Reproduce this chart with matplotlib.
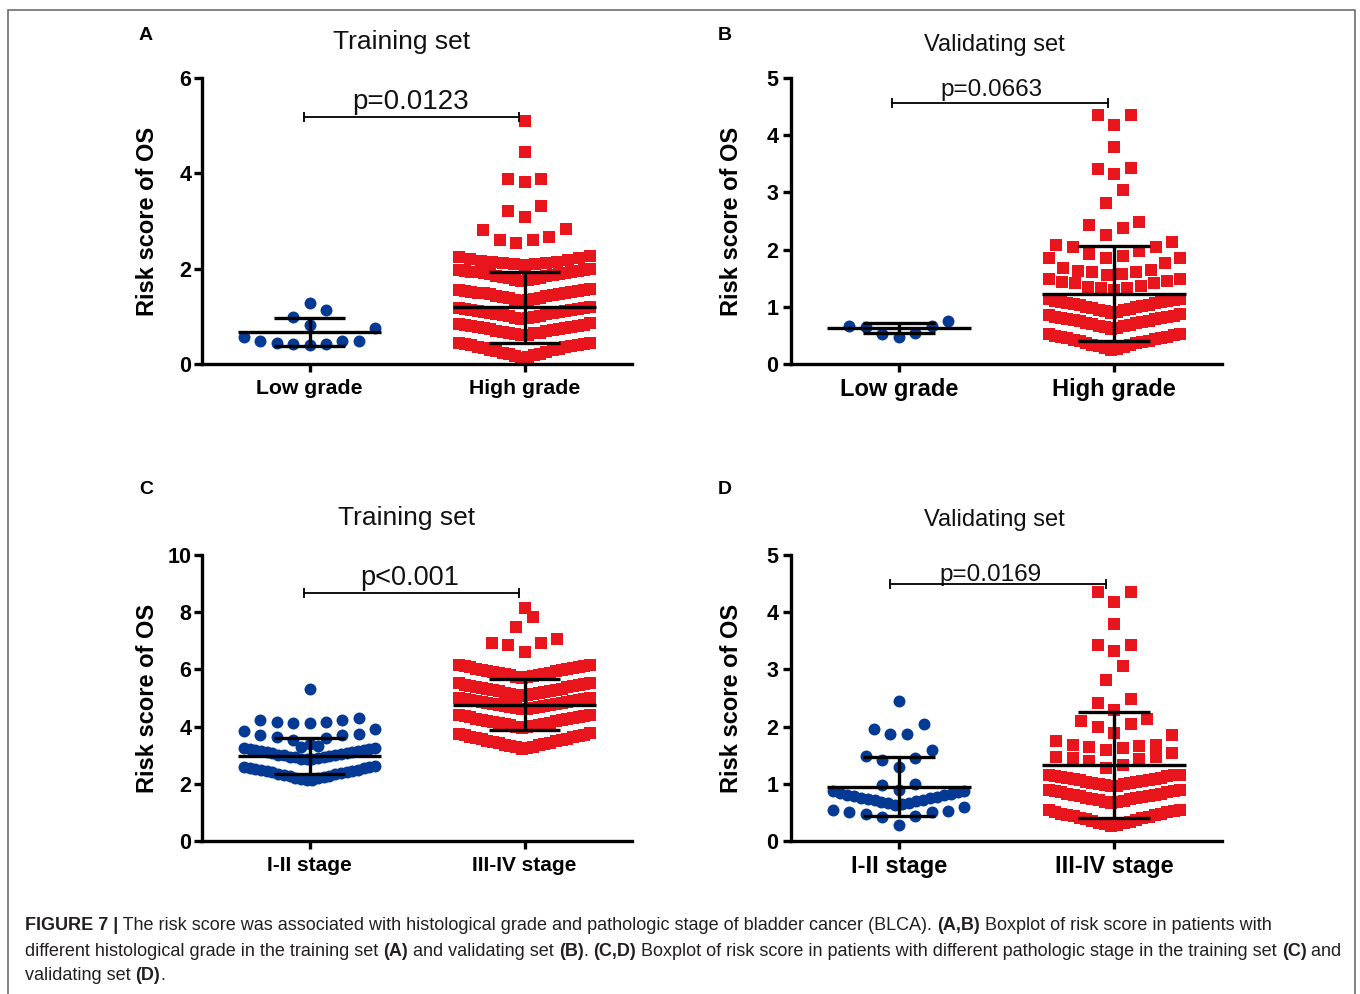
import numpy as np
import matplotlib
matplotlib.use("Agg")
import matplotlib.pyplot as plt
from matplotlib.patches import Rectangle
from matplotlib.font_manager import FontProperties

plt.rcParams['font.family'] = ['Liberation Sans', 'DejaVu Sans']

# ---------------- data (rows of the dot plots) ----------------
grade_labels = ["Low grade", "High grade"]
stage_labels = ["I-II stage", "III-IV stage"]

A_low_rows = [
    [0.40, 0.43, 0.43, 0.45, 0.48, 0.48, 0.48, 0.57, 0.75],
    [0.82, 0.99, 1.13],
    [1.27],
]
A_high_rows = [
    [5.10],
    [4.44],
    [3.81, 3.89, 3.89],
    [3.09, 3.21, 3.31],
    [2.53, 2.60, 2.61, 2.66, 2.81, 2.84],
    [2.08, 2.09, 2.10, 2.11, 2.12, 2.14, 2.15, 2.17, 2.19, 2.21, 2.23, 2.25, 2.27],
    [1.75, 1.76, 1.77, 1.79, 1.80, 1.81, 1.83, 1.84, 1.85, 1.86, 1.88, 1.89, 1.90, 1.91, 1.92, 1.93, 1.94, 1.95, 1.96, 1.97, 1.98, 1.99],
    [1.33, 1.34, 1.35, 1.37, 1.38, 1.39, 1.41, 1.42, 1.43, 1.44, 1.46, 1.47, 1.48, 1.49, 1.50, 1.51, 1.52, 1.53, 1.54, 1.55, 1.56, 1.57],
    [0.95, 0.96, 0.97, 0.99, 1.00, 1.01, 1.03, 1.04, 1.05, 1.06, 1.08, 1.09, 1.10, 1.11, 1.12, 1.13, 1.14, 1.15, 1.16, 1.17, 1.18, 1.19],
    [0.60, 0.61, 0.62, 0.64, 0.65, 0.66, 0.68, 0.69, 0.70, 0.71, 0.73, 0.74, 0.75, 0.76, 0.77, 0.78, 0.79, 0.80, 0.81, 0.82, 0.84, 0.85],
    [0.13, 0.15, 0.17, 0.19, 0.21, 0.22, 0.24, 0.26, 0.27, 0.29, 0.30, 0.32, 0.33, 0.35, 0.36, 0.37, 0.39, 0.40, 0.41, 0.43, 0.44, 0.45],
]
A_mean = [0.67, 1.19]
A_sd = [0.30, 0.75]

B_low_rows = [
    [0.47, 0.52, 0.54, 0.65, 0.66, 0.67, 0.76],
]
B_high_rows = [
    [4.18, 4.35, 4.35],
    [3.79],
    [3.32, 3.41, 3.42],
    [2.82, 3.04],
    [2.26, 2.37, 2.43, 2.49],
    [1.85, 1.88, 1.93, 1.98, 2.04, 2.05, 2.08, 2.14],
    [1.56, 1.57, 1.60, 1.61, 1.63, 1.65, 1.67, 1.76, 1.85, 1.85],
    [1.29, 1.32, 1.32, 1.34, 1.36, 1.41, 1.41, 1.44, 1.45, 1.48, 1.48],
    [0.90, 0.91, 0.92, 0.94, 0.95, 0.96, 0.98, 0.99, 1.00, 1.01, 1.03, 1.04, 1.05, 1.06, 1.07, 1.08, 1.09, 1.10, 1.11, 1.12, 1.13, 1.14],
    [0.62, 0.63, 0.64, 0.66, 0.67, 0.68, 0.70, 0.71, 0.72, 0.73, 0.75, 0.76, 0.77, 0.78, 0.79, 0.80, 0.81, 0.82, 0.83, 0.84, 0.86, 0.87],
    [0.25, 0.27, 0.28, 0.30, 0.31, 0.33, 0.34, 0.36, 0.37, 0.38, 0.40, 0.41, 0.42, 0.43, 0.45, 0.46, 0.47, 0.48, 0.49, 0.50, 0.52, 0.53],
]
B_mean = [0.63, 1.23]
B_sd = [0.09, 0.83]

C_low_rows = [
    [5.31],
    [4.11, 4.14, 4.17, 4.17, 4.23, 4.23, 4.29],
    [3.40, 3.53, 3.59, 3.65, 3.71, 3.71, 3.74, 3.86, 3.90],
    [3.30, 3.32],
    [2.85, 2.86, 2.88, 2.90, 2.92, 2.93, 2.95, 2.97, 2.99, 3.00, 3.02, 3.04, 3.06, 3.08, 3.10, 3.12, 3.14, 3.16, 3.18, 3.19, 3.21, 3.22, 3.24, 3.25],
    [2.13, 2.15, 2.18, 2.20, 2.22, 2.24, 2.27, 2.29, 2.31, 2.33, 2.36, 2.38, 2.40, 2.42, 2.44, 2.46, 2.48, 2.50, 2.52, 2.54, 2.56, 2.58, 2.60, 2.62],
]
C_high_rows = [
    [8.14],
    [7.49, 7.84],
    [6.62, 6.85, 6.91, 6.91, 7.08],
    [5.71, 5.73, 5.75, 5.77, 5.79, 5.81, 5.83, 5.85, 5.87, 5.89, 5.91, 5.93, 5.95, 5.97, 5.99, 6.01, 6.03, 6.05, 6.07, 6.09, 6.11, 6.13, 6.15, 6.17],
    [5.07, 5.09, 5.11, 5.13, 5.15, 5.17, 5.19, 5.21, 5.23, 5.25, 5.27, 5.29, 5.31, 5.33, 5.35, 5.37, 5.39, 5.41, 5.43, 5.45, 5.47, 5.49, 5.51, 5.53],
    [4.60, 4.62, 4.64, 4.65, 4.67, 4.69, 4.71, 4.72, 4.74, 4.76, 4.78, 4.79, 4.81, 4.83, 4.85, 4.86, 4.88, 4.90, 4.92, 4.93, 4.95, 4.97, 4.99, 5.01],
    [3.96, 3.98, 4.00, 4.02, 4.04, 4.06, 4.08, 4.10, 4.12, 4.14, 4.16, 4.18, 4.20, 4.22, 4.24, 4.26, 4.28, 4.30, 4.32, 4.34, 4.36, 4.38, 4.40, 4.42],
    [3.22, 3.24, 3.27, 3.29, 3.31, 3.34, 3.36, 3.38, 3.41, 3.43, 3.45, 3.48, 3.50, 3.52, 3.55, 3.57, 3.59, 3.62, 3.64, 3.66, 3.69, 3.71, 3.74, 3.77],
]
C_mean = [2.96, 4.76]
C_sd = [0.63, 0.89]

D_low_rows = [
    [2.45],
    [1.87, 1.87, 1.95, 2.05],
    [1.30, 1.42, 1.45, 1.49, 1.59],
    [0.89, 0.98, 1.00],
    [0.63, 0.64, 0.66, 0.67, 0.68, 0.70, 0.71, 0.72, 0.74, 0.75, 0.76, 0.77, 0.79, 0.80, 0.81, 0.83, 0.84, 0.85, 0.87, 0.88],
    [0.28, 0.42, 0.44, 0.47, 0.51, 0.51, 0.53, 0.55, 0.59],
]
D_high_rows = [
    [4.18, 4.36, 4.36],
    [3.79],
    [3.33, 3.43, 3.43],
    [2.81, 3.06],
    [2.29, 2.42, 2.49],
    [1.88, 2.00, 2.05, 2.09, 2.14],
    [1.59, 1.62, 1.65, 1.66, 1.68, 1.68, 1.74, 1.85],
    [1.28, 1.33, 1.40, 1.43, 1.45, 1.47, 1.47, 1.53],
    [0.96, 0.97, 0.98, 0.99, 1.00, 1.01, 1.02, 1.03, 1.04, 1.05, 1.06, 1.07, 1.08, 1.09, 1.10, 1.11, 1.12, 1.13, 1.14, 1.15, 1.16, 1.16],
    [0.67, 0.68, 0.69, 0.70, 0.71, 0.73, 0.74, 0.75, 0.76, 0.77, 0.78, 0.79, 0.80, 0.81, 0.82, 0.83, 0.85, 0.86, 0.87, 0.88, 0.89, 0.90],
    [0.26, 0.28, 0.29, 0.31, 0.32, 0.34, 0.35, 0.37, 0.38, 0.40, 0.41, 0.42, 0.43, 0.45, 0.46, 0.47, 0.48, 0.50, 0.51, 0.52, 0.54, 0.55],
]
D_mean = [0.95, 1.33]
D_sd = [0.52, 0.92]

p_texts = ["p=0.0123", "p=0.0663", "p<0.001", "p=0.0169"]

# ---------------- styling ----------------
W, H = 1360, 994
BLUE = "#053a94"
RED = "#e8151d"

fig = plt.figure(figsize=(W / 100, H / 100), dpi=100)


def px_axes(l, t, r, b):
    return fig.add_axes([l / W, 1 - b / H, (r - l) / W, (b - t) / H])


def row_offsets(n, step=0.0767, halfw=0.305):
    if n == 1:
        return [0.0]
    sp = min(step, 2 * halfw / (n - 1))
    offs = []
    if n % 2 == 1:
        offs.append(0.0)
        k = 1
        while len(offs) < n:
            offs.append(-k * sp)
            if len(offs) < n:
                offs.append(k * sp)
            k += 1
    else:
        k = 0.5
        while len(offs) < n:
            offs.append(-k * sp)
            offs.append(k * sp)
            k += 1
    return offs[:n]


def draw_group(ax, rows, xc, marker, color, ms):
    xs, ys = [], []
    for row in rows:
        vals = sorted(row)
        offs = row_offsets(len(vals))
        for v, o in zip(vals, offs):
            xs.append(xc + o)
            ys.append(v)
    ax.scatter(xs, ys, s=ms ** 2, marker=marker, color=color, linewidths=0,
               zorder=2, clip_on=False)


panels = [
    dict(box=(202, 78, 632, 364), ymax=6, yticks=[0, 2, 4, 6], labels=grade_labels,
         low=A_low_rows, high=A_high_rows, mean=A_mean, sd=A_sd, p=p_texts[0],
         by=5.18, bx=(-0.025, 0.975), px=0.47, psize=20, poff=1.5,
         title="Training set", txy=(402, 42), tsize=19, xts=15.3, ylx=147,
         letter="A", lxy=(146, 36), ypad=2, xpad=5.5),
    dict(box=(791, 78, 1222, 364), ymax=5, yticks=[0, 1, 2, 3, 4, 5], labels=grade_labels,
         low=B_low_rows, high=B_high_rows, mean=B_mean, sd=B_sd, p=p_texts[1],
         by=4.57, bx=(-0.03, 0.97), px=0.43, psize=17.5, poff=1.5,
         title="Validating set", txy=(994, 45), tsize=17, xts=17, ylx=732,
         letter="B", lxy=(725, 36), ypad=3.5, xpad=4.5),
    dict(box=(202, 555, 632, 841), ymax=10, yticks=[0, 2, 4, 6, 8, 10], labels=stage_labels,
         low=C_low_rows, high=C_high_rows, mean=C_mean, sd=C_sd, p=p_texts[2],
         by=8.66, bx=(-0.025, 0.975), px=0.467, psize=19.5, poff=1.5,
         title="Training set", txy=(407, 518), tsize=19, xts=15, ylx=147,
         letter="C", lxy=(146, 490), ypad=2, xpad=5.5),
    dict(box=(791, 555, 1222, 841), ymax=5, yticks=[0, 1, 2, 3, 4, 5], labels=stage_labels,
         low=D_low_rows, high=D_high_rows, mean=D_mean, sd=D_sd, p=p_texts[3],
         by=4.49, bx=(-0.042, 0.96), px=0.426, psize=17.5, poff=-1.0,
         title="Validating set", txy=(994, 520), tsize=17, xts=17, ylx=732,
         letter="D", lxy=(725, 490), ypad=3.5, xpad=4.5),
]

for P in panels:
    l, t, r, b = P["box"]
    ax = px_axes(l, t, r, b)
    ax.set_xlim(-0.5, 1.5)
    ax.set_ylim(0, P["ymax"])
    for s in ["top", "right"]:
        ax.spines[s].set_visible(False)
    for s in ["left", "bottom"]:
        ax.spines[s].set_linewidth(2.4)
        ax.spines[s].set_zorder(5)
    ax.set_yticks(P["yticks"])
    ax.set_yticklabels([str(v) for v in P["yticks"]], fontsize=15.5, fontweight="bold")
    ax.set_xticks([0, 1])
    ax.set_xticklabels(P["labels"], fontsize=P["xts"], fontweight="bold")
    ax.tick_params(axis="y", width=2.4, length=5.5, pad=P["ypad"])
    ax.tick_params(axis="x", width=2.4, length=5.5, pad=P["xpad"])

    draw_group(ax, P["low"], 0, "o", BLUE, 8.6)
    draw_group(ax, P["high"], 1, "s", RED, 8.3)

    for xc, m, sd in zip([0, 1], P["mean"], P["sd"]):
        ax.hlines(m, xc - 0.333, xc + 0.333, color="black", lw=2.4, zorder=4)
        ax.hlines([m - sd, m + sd], xc - 0.167, xc + 0.167, color="black", lw=2.4, zorder=4)
        ax.vlines(xc, m - sd, m + sd, color="black", lw=2.4, zorder=4)

    x0, x1 = P["bx"]
    ax.plot([x0, x1], [P["by"], P["by"]], color="black", lw=1.3, marker="|",
            ms=7, mew=1.3, zorder=4, clip_on=False)
    ax.annotate(P["p"], xy=(P["px"], P["by"]), xytext=(0, P["poff"]),
                textcoords="offset points", ha="center", va="bottom",
                fontsize=P["psize"], color="#111111")

    fig.text(P["txy"][0] / W, 1 - P["txy"][1] / H, P["title"], ha="center",
             va="center", fontsize=P["tsize"], color="#111111")
    fig.text(P["ylx"] / W, 1 - ((t + b) / 2) / H, "Risk score of OS", rotation=90,
             ha="center", va="center", fontsize=17, fontweight="bold")
    fig.text(P["lxy"][0] / W, 1 - P["lxy"][1] / H, P["letter"], ha="center",
             va="center", fontsize=14, fontweight="bold")

# ---------------- frame ----------------
fig.patches.append(Rectangle((8 / W, -0.02), (1355 - 8) / W, 1.02 - 10 / H,
                             transform=fig.transFigure, fill=False,
                             edgecolor="#6e6e6e", lw=1.2))

# ---------------- caption with mixed bold ----------------
caption_lines = [
    [("FIGURE 7 |", True),
     (" The risk score was associated with histological grade and pathologic stage of bladder cancer (BLCA). ", False),
     ("(A,B)", True), (" Boxplot of risk score in patients with", False)],
    [("different histological grade in the training set ", False), ("(A)", True),
     (" and validating set ", False), ("(B)", True), (". ", False), ("(C,D)", True),
     (" Boxplot of risk score in patients with different pathologic stage in the training set ", False),
     ("(C)", True), (" and", False)],
    [("validating set ", False), ("(D)", True), (".", False)],
]
cap_y = [926, 951, 975]
renderer = fig.canvas.get_renderer()


def seg_width(s, bold, size):
    fp = FontProperties(family=['Liberation Sans', 'DejaVu Sans'],
                        weight="bold" if bold else "normal", size=size)
    w1, _, _ = renderer.get_text_width_height_descent("|" + s + "|", fp, ismath=False)
    w0, _, _ = renderer.get_text_width_height_descent("||", fp, ismath=False)
    return (w1 - w0)


cap_size = 12.95
for line, yy in zip(caption_lines, cap_y):
    x = 25.0
    for s, bold in line:
        fig.text(x / W, 1 - yy / H, s, ha="left", va="center", fontsize=cap_size,
                 fontweight="bold" if bold else "normal", color="#231f20")
        x += seg_width(s, bold, cap_size)

fig.savefig("out.png", dpi=100)
